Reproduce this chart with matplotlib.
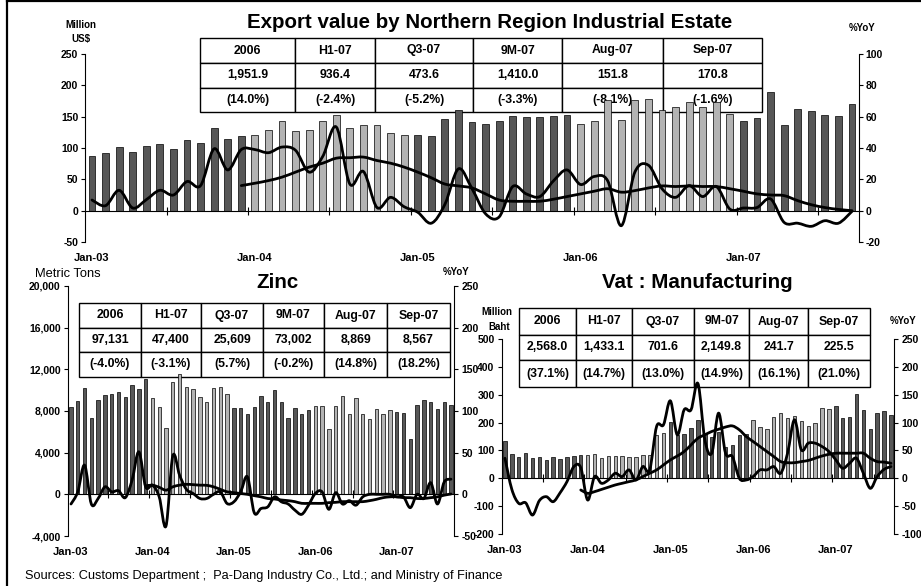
import numpy as np
import pandas as pd
import matplotlib
matplotlib.use("Agg")
import matplotlib.pyplot as plt
from matplotlib.lines import Line2D
from matplotlib.patches import Rectangle, PathPatch
from matplotlib.path import Path

plt.rcParams["font.family"] = ["Liberation Sans", "DejaVu Sans"]

W, H = 921, 586

# ---- data -------------------------------------------------------------
months = pd.date_range("2003-01-01", periods=57, freq="MS")
xlabels = ["Jan-03", "Jan-04", "Jan-05", "Jan-06", "Jan-07"]
tbl_hdr = ["2006", "H1-07", "Q3-07", "9M-07", "Aug-07", "Sep-07"]

# export value by Northern Region Industrial Estate (million US$)
exp_val = [87, 92, 101, 93, 103, 106, 99, 112, 108, 132, 114, 119,
           121, 129, 143, 127, 129, 143, 152, 132, 136, 137, 124, 121,
           120, 119, 147, 161, 141, 138, 143, 151, 150, 150, 151, 153,
           139, 143, 177, 145, 176, 178, 161, 166, 174, 165, 174, 155,
           143, 148, 189, 136, 163, 159, 152, 151.8, 170.8]
exp_yoy = [6.8, 3.2, 13, 1.7, 7, 13, 10, 18.6, 16, 39.5, 26, 39,
           39, 37, 40.6, 38.5, 24.6, 34.6, 53.4, 17, 25, 2, 8.5, 2.5,
           -1, -8, 4, 26.7, 14, -2, -4, 15.4, 10.7, 9, 19, 26,
           16.7, 21.8, 19, -9.6, 24.6, 29, 14, 8.5, 16, 9, 15.4, 1,
           1.7, 2, 7.5, -7.5, -8, -10, -6.4, -8, -0.4]
exp_avg = [16, 17.5, 19.2, 21.4, 24.6, 27.8, 30.3, 33.5, 33.8, 34.2, 32, 30.3,
           27.8, 24.6, 21, 17, 15.8, 14.5, 10.7, 6.8, 6, 6, 6, 7.3,
           9, 10.7, 12.4, 14, 11.8, 12.8, 14.5, 15.8, 15.4, 15.8, 15.4, 15.4,
           14, 12.4, 10.7, 10, 9.6, 6.4, 3.8, 2, 0.8, 0]
exp_tv = ["1,951.9", "936.4", "473.6", "1,410.0", "151.8", "170.8"]
exp_tc = ["(14.0%)", "(-2.4%)", "(-5.2%)", "(-3.3%)", "(-8.1%)", "(-1.6%)"]

# zinc (metric tons)
zn_val = [8430, 9000, 10190, 7370, 9040, 9550, 9620, 9840, 9330, 10450, 10100, 11060,
          9230, 8370, 6410, 10740, 11540, 10260, 10130, 9390, 8880, 10190, 10260, 9650,
          8270, 8270, 7720, 8430, 9460, 8850, 9970, 8850, 7310, 8270, 7720, 8050,
          8460, 8460, 6310, 8460, 9460, 7760, 9230, 7760, 7210, 8240, 7760, 8050,
          7920, 7850, 5290, 8560, 9070, 8850, 8170, 8869, 8567]
zn_yoy = [-11.6, 3, 35, -11.6, -5, 9, 3, 4.4, -4, 17, 51, 9,
          11, -3, -38, 46, 23, 6, 1, -5, -5, 0, 3, -11,
          -9, 3, 21, -22, -17, -15, -3, -9, -11.6, -19, -24, -13,
          1, 3, -18, 2, -11.6, -7.6, -13, -3, 0, 0, 0, 0,
          -3, -3, -16, 0, -5, 14, -11.6, 14.8, 18.2]
zn_avg = [10, 11, 8.4, 5, 9, 11, 12, 11.6, 11, 10.8, 9, 6,
          3, 2, 1, 0, -1.6, -3, -5, -5.6, -6.8, -7.6, -8.8, -10.8,
          -10.8, -10.8, -10.8, -10, -9.6, -8.8, -8.8, -8.8, -8.8, -7.6, -6, -4,
          -3, -3, -4, -4, -5, -5, -4, -3, -1, 0.4]
zn_tv = ["97,131", "47,400", "25,609", "73,002", "8,869", "8,567"]
zn_tc = ["(-4.0%)", "(-3.1%)", "(5.7%)", "(-0.2%)", "(14.8%)", "(18.2%)"]

# VAT : manufacturing (million baht)
vat_val = [134, 87, 76, 90, 72, 78, 66, 78, 68, 75, 81, 84,
           84, 87, 72, 81, 80, 81, 76, 75, 85, 85, 155, 161,
           203, 155, 158, 179, 211, 160, 150, 165, 113, 119, 155, 158,
           211, 183, 177, 221, 233, 215, 225, 205, 186, 200, 251, 247,
           260, 215, 221, 301, 245, 178, 233, 241.7, 225.5]
vat_yoy = [36, -20, -45, -44, -66, -40, -33, -42, -26, -6, 21, 19,
           -39, 3, -9, -3, 9, 3, 15, -3, 21, 15, 93, 96,
           139, 78, 123, 123, 170, 69, 45, 117, 45, 39, 0, -3,
           3, 15, 15, 21, 9, 45, 105, 51, 63, 63, 57, 48,
           33, 18, 27, 36, 9, -18, 3, 16, 21]
vat_avg = [-21, -27, -24, -20, -16, -12, -9, -6, -3, 3, 9, 15,
           24, 33, 40, 48, 60, 72, 78, 84, 88, 92, 94, 87,
           75, 66, 57, 48, 39, 30, 28, 28, 30, 32, 36, 40,
           43, 45, 45, 45, 45, 45, 36, 30, 29, 27]
vat_tv = ["2,568.0", "1,433.1", "701.6", "2,149.8", "241.7", "225.5"]
vat_tc = ["(37.1%)", "(14.7%)", "(13.0%)", "(14.9%)", "(16.1%)", "(21.0%)"]

exp_lt = [-50, 0, 50, 100, 150, 200, 250]
exp_rt = [-20, 0, 20, 40, 60, 80, 100]
zn_lt = [-4000, 0, 4000, 8000, 12000, 16000, 20000]
zn_rt = [-50, 0, 50, 100, 150, 200, 250]
vat_lt = [-200, -100, 0, 100, 200, 300, 400, 500]
vat_rt = [-100, -50, 0, 50, 100, 150, 200, 250]

# ---- helpers ----------------------------------------------------------
DARK, LIGHT = "#575757", "#b3b3b3"


def fx(x):
    return x / W


def fy(y):
    return 1 - y / H


def add_ax(x0, x1, ytop, ybot):
    return fig.add_axes([fx(x0), fy(ybot), (x1 - x0) / W, (ybot - ytop) / H])


def smooth_line(ax, x, y):
    # Excel-style smoothed line: bezier segments through every data point
    p = np.column_stack([x, y]).astype(float)
    ext = np.vstack([p[0], p, p[-1]])
    verts, codes = [p[0]], [Path.MOVETO]
    for i in range(len(p) - 1):
        p0, p1, p2, p3 = ext[i], ext[i + 1], ext[i + 2], ext[i + 3]
        verts += [p1 + (p2 - p0) / 6, p2 - (p3 - p1) / 6, p2]
        codes += [Path.CURVE4] * 3
    ax.add_patch(PathPatch(Path(verts, codes), facecolor="none", edgecolor="black",
                           lw=2, capstyle="round", joinstyle="round"))


def panel(ax, vals, yoy, avg, lt, rt, labfmt=str):
    x = np.arange(len(vals))
    cols = [DARK if d.year % 2 else LIGHT for d in months]
    ax.patch.set_visible(False)
    ax.bar(x, vals, width=0.5, color=cols, edgecolor="black", linewidth=0.5, zorder=2)
    ax.set_xlim(-0.5, len(vals) - 0.5)
    ax.set_ylim(lt[0], lt[-1])
    ax.set_yticks(lt)
    ax.set_yticklabels([labfmt(v) for v in lt], fontsize=7.5, fontweight="bold")
    ax.spines["top"].set_visible(False)
    ax.spines["right"].set_visible(False)
    ax.spines["bottom"].set_position(("data", 0))
    ax.spines["bottom"].set_zorder(3)
    ax.set_xticks(np.arange(5.5, len(vals), 6))
    ax.tick_params(axis="x", direction="inout", length=6, width=0.8, labelbottom=False)
    ax.tick_params(axis="y", direction="out", length=3, width=0.8, pad=2)
    for i, lab in zip(range(0, len(vals), 12), xlabels):
        ax.annotate(lab, xy=(i, 0), xycoords=("data", "axes fraction"),
                    xytext=(0, -11.5), textcoords="offset points",
                    ha="center", va="center", fontsize=8, fontweight="bold")

    ax2 = ax.twinx()
    ax2.set_ylim(rt[0], rt[-1])
    ax2.set_yticks(rt)
    ax2.set_yticklabels([str(v) for v in rt], fontsize=7.5, fontweight="bold")
    ax2.tick_params(axis="y", direction="out", length=3, width=0.8, pad=2)
    for s in ["top", "bottom", "left"]:
        ax2.spines[s].set_visible(False)
    smooth_line(ax2, x, yoy)
    smooth_line(ax2, x[len(vals) - len(avg):], avg)
    ax2.set_xlim(-0.5, len(vals) - 0.5)
    ax2.set_ylim(rt[0], rt[-1])
    return ax2


def table(colx, rowy, rows, fs):
    for r in range(len(rowy) - 1):
        for c in range(len(colx) - 1):
            fig.add_artist(Rectangle((fx(colx[c]), fy(rowy[r + 1])),
                                     (colx[c + 1] - colx[c]) / W,
                                     (rowy[r + 1] - rowy[r]) / H,
                                     transform=fig.transFigure, facecolor="white",
                                     edgecolor="black", linewidth=1.0, zorder=-2))
            fig.text(fx((colx[c] + colx[c + 1]) / 2), fy((rowy[r] + rowy[r + 1]) / 2),
                     rows[r][c], ha="center", va="center", fontsize=fs,
                     fontweight="bold", zorder=-1)


# ---- figure -----------------------------------------------------------
fig = plt.figure(figsize=(W / 100, H / 100), dpi=100)

ax_exp = add_ax(85.2, 858.8, 54, 242)
panel(ax_exp, exp_val, exp_yoy, exp_avg, exp_lt, exp_rt)

ax_zn = add_ax(67.6, 454.4, 286, 536)
panel(ax_zn, zn_val, zn_yoy, zn_avg, zn_lt, zn_rt, labfmt=lambda v: f"{v:,}")

ax_vat = add_ax(501.5, 894.4, 339, 534)
panel(ax_vat, vat_val, vat_yoy, vat_avg, vat_lt, vat_rt)

table([200, 295, 375, 473, 562, 663, 762], [38, 63, 88, 112],
      [tbl_hdr, exp_tv, exp_tc], 8.8)
table([79, 141, 201, 263, 324, 387, 450], [303, 328, 352, 377],
      [tbl_hdr, zn_tv, zn_tc], 8.8)
table([519, 576, 632, 694, 749, 808, 870], [308, 335, 360, 387],
      [tbl_hdr, vat_tv, vat_tc], 8.8)

# titles and axis captions
fig.text(fx(490), fy(28), "Export value by Northern Region Industrial Estate",
         ha="center", va="baseline", fontsize=14.8, fontweight="bold")
fig.text(fx(277), fy(288), "Zinc", ha="center", va="baseline",
         fontsize=14.8, fontweight="bold")
fig.text(fx(697), fy(288), "Vat : Manufacturing", ha="center", va="baseline",
         fontsize=14.8, fontweight="bold")

fig.text(fx(81), fy(25), "Million", ha="center", va="center", fontsize=7, fontweight="bold")
fig.text(fx(81), fy(39), "US$", ha="center", va="center", fontsize=7, fontweight="bold")
fig.text(fx(862), fy(28), "%YoY", ha="center", va="center", fontsize=7, fontweight="bold")
fig.text(fx(35), fy(274), "Metric Tons", ha="left", va="center", fontsize=9.3)
fig.text(fx(456), fy(272), "%YoY", ha="center", va="center", fontsize=7, fontweight="bold")
fig.text(fx(497), fy(312), "Million", ha="center", va="center", fontsize=7, fontweight="bold")
fig.text(fx(499), fy(327), "Baht", ha="center", va="center", fontsize=7, fontweight="bold")
fig.text(fx(890), fy(321), "%YoY", ha="left", va="center", fontsize=7, fontweight="bold")
fig.text(fx(25), fy(576),
         "Sources: Customs Department ;  Pa-Dang Industry Co., Ltd.; and Ministry of Finance",
         ha="left", va="center", fontsize=9.2)

# outer frame (top and left edges)
fig.add_artist(Line2D([fx(6.5), fx(6.5)], [0, fy(1)], color="black", lw=1.6))
fig.add_artist(Line2D([fx(6.5), 1], [fy(1.2), fy(1.2)], color="black", lw=1.6))

fig.savefig("out.png", dpi=100)
